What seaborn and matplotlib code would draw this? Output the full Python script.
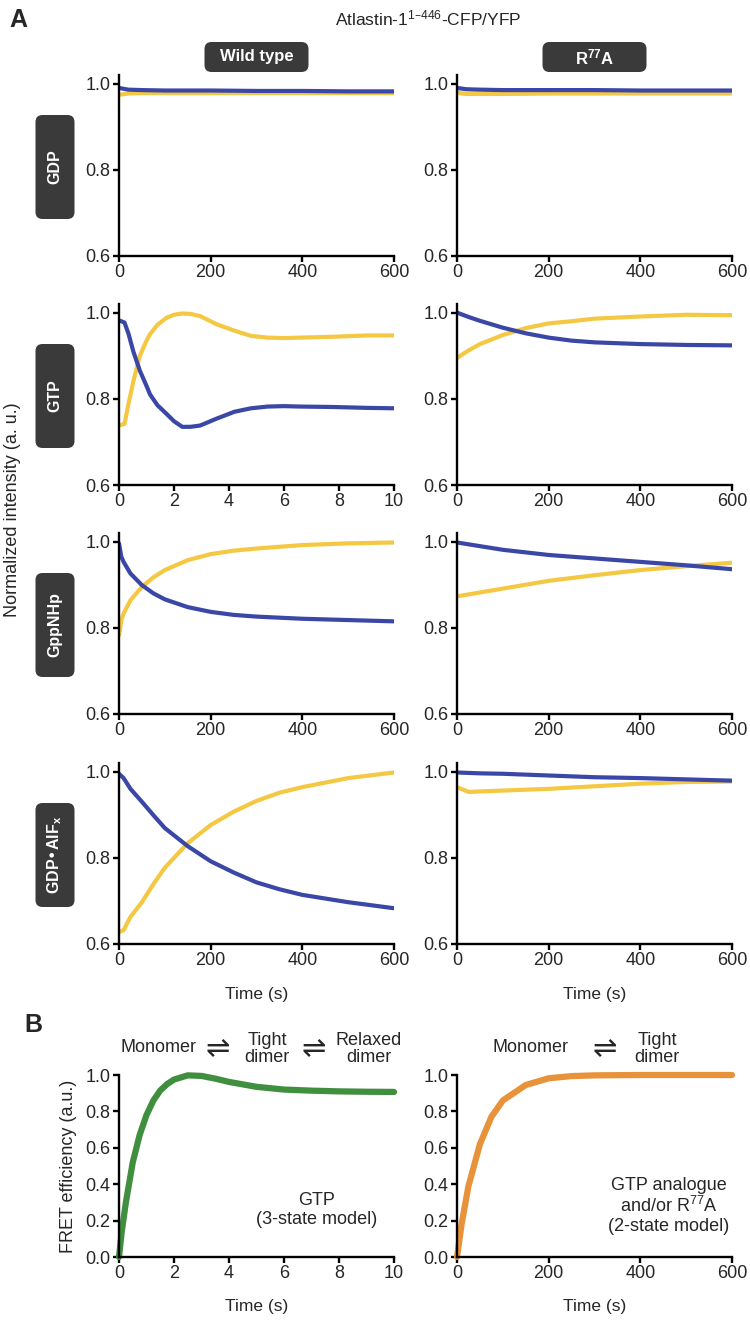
import matplotlib
matplotlib.use("Agg")
import matplotlib.pyplot as plt
import seaborn as sns
import pandas as pd
from matplotlib.patches import FancyBboxPatch

# ---- panel A data (normalized CFP / YFP intensity) ----
t_gdp = [0, 20, 50, 100, 200, 300, 400, 500, 600]
wt_gdp_cfp = [0.99, 0.986, 0.985, 0.984, 0.984, 0.983, 0.983, 0.982, 0.982]
wt_gdp_yfp = [0.974, 0.977, 0.978, 0.978, 0.978, 0.978, 0.978, 0.978, 0.978]
r77a_gdp_cfp = [0.99, 0.987, 0.986, 0.985, 0.985, 0.985, 0.984, 0.984, 0.984]
r77a_gdp_yfp = [0.979, 0.976, 0.976, 0.976, 0.977, 0.977, 0.977, 0.977, 0.977]

t_gtp_wt = [0, 0.2, 0.35, 0.52, 0.76, 1.0, 1.13, 1.4, 1.73, 2.0, 2.3, 2.6, 2.95,
            3.55, 4.2, 4.8, 5.4, 6.0, 6.6, 7.8, 9.0, 10]
wt_gtp_cfp = [0.982, 0.977, 0.95, 0.91, 0.865, 0.83, 0.81, 0.785, 0.765, 0.748, 0.735,
              0.735, 0.738, 0.754, 0.77, 0.778, 0.782, 0.783, 0.782, 0.781, 0.779, 0.778]
wt_gtp_yfp = [0.738, 0.742, 0.79, 0.84, 0.90, 0.935, 0.95, 0.972, 0.988, 0.995, 0.998,
              0.997, 0.992, 0.973, 0.958, 0.946, 0.942, 0.941, 0.942, 0.944, 0.947, 0.947]

t_gtp_r77a = [0, 25, 50, 100, 150, 200, 250, 300, 400, 500, 600]
r77a_gtp_cfp = [1.0, 0.99, 0.981, 0.965, 0.952, 0.942, 0.935, 0.931, 0.927, 0.925, 0.924]
r77a_gtp_yfp = [0.895, 0.912, 0.927, 0.948, 0.964, 0.975, 0.98, 0.986, 0.991, 0.995, 0.994]

t_gnp_wt = [0, 5, 10, 25, 50, 75, 100, 150, 200, 250, 300, 400, 500, 600]
wt_gnp_cfp = [0.996, 0.965, 0.953, 0.926, 0.899, 0.88, 0.866, 0.848, 0.837, 0.83, 0.826,
              0.821, 0.818, 0.815]
wt_gnp_yfp = [0.783, 0.818, 0.833, 0.864, 0.895, 0.917, 0.934, 0.957, 0.971, 0.979, 0.984,
              0.992, 0.996, 0.998]

t_gnp_r77a = [0, 100, 200, 300, 400, 500, 600]
r77a_gnp_cfp = [0.998, 0.981, 0.969, 0.961, 0.953, 0.945, 0.936]
r77a_gnp_yfp = [0.873, 0.891, 0.909, 0.922, 0.934, 0.943, 0.951]

t_alf_wt = [0, 10, 25, 50, 75, 100, 150, 200, 250, 300, 350, 400, 500, 600]
wt_alf_cfp = [0.995, 0.985, 0.96, 0.93, 0.899, 0.869, 0.827, 0.792, 0.766, 0.743, 0.727,
              0.714, 0.697, 0.683]
wt_alf_yfp = [0.628, 0.632, 0.663, 0.697, 0.739, 0.777, 0.834, 0.876, 0.907, 0.932, 0.951,
              0.964, 0.985, 0.998]

t_alf_r77a = [0, 25, 50, 100, 200, 300, 400, 500, 600]
r77a_alf_cfp = [0.998, 0.997, 0.996, 0.995, 0.991, 0.987, 0.985, 0.982, 0.979]
r77a_alf_yfp = [0.964, 0.953, 0.954, 0.956, 0.96, 0.966, 0.972, 0.976, 0.977]

# ---- panel B data (model FRET efficiency) ----
t_model3 = [0, 0.1, 0.25, 0.5, 0.75, 1.0, 1.25, 1.5, 1.75, 2.0, 2.5, 3.0, 3.5, 4.0,
            5.0, 6.0, 7.0, 8.0, 9.0, 10.0]
fret_model3 = [0, 0.14, 0.30, 0.52, 0.67, 0.78, 0.86, 0.915, 0.95, 0.975, 0.998, 0.995,
               0.98, 0.962, 0.935, 0.92, 0.914, 0.91, 0.908, 0.907]
t_model2 = [0, 5, 10, 25, 50, 75, 100, 150, 200, 250, 300, 400, 500, 600]
fret_model2 = [0, 0.09, 0.18, 0.39, 0.62, 0.77, 0.86, 0.945, 0.982, 0.994, 0.998, 1.0, 1.0, 1.0]

row_names = ["GDP", "GTP", "GppNHp", "GDP\u2022AlF$_x$"]
col_names = ["Wild type", "R$^{77}$A"]

BLUE = "#3a47a6"
YELLOW = "#f4c842"
GREEN = "#3f8f3f"
ORANGE = "#e8923a"
BOXC = "#3a3a3a"

sns.set_style("ticks")
plt.rcParams["font.family"] = ["Liberation Sans", "DejaVu Sans"]
plt.rcParams["mathtext.default"] = "regular"

W, H = 750, 1324
fig = plt.figure(figsize=(W / 100, H / 100), dpi=100)


def add_ax(left, bottom, w, h):
    return fig.add_axes([left / W, 1 - bottom / H, w / W, h / H])


def style(ax):
    sns.despine(ax=ax)
    for s in ["left", "bottom"]:
        ax.spines[s].set_linewidth(1.7)
        ax.spines[s].set_color("black")
    ax.tick_params(direction="out", length=4, width=1.7, labelsize=13, pad=2, color="black")


def dark_box(cx, cy, w, h, text, rot=0, size=11.5):
    box = FancyBboxPatch(((cx - w / 2) / 100, (H - cy - h / 2) / 100), w / 100, h / 100,
                         boxstyle="round,pad=0,rounding_size=0.07",
                         transform=fig.dpi_scale_trans, fc=BOXC, ec="none")
    fig.add_artist(box)
    fig.text(cx / W, 1 - cy / H, text, rotation=rot, ha="center", va="center",
             color="white", fontsize=size, fontweight="bold")


panels = [
    [(t_gdp, wt_gdp_cfp, wt_gdp_yfp, 600), (t_gdp, r77a_gdp_cfp, r77a_gdp_yfp, 600)],
    [(t_gtp_wt, wt_gtp_cfp, wt_gtp_yfp, 10), (t_gtp_r77a, r77a_gtp_cfp, r77a_gtp_yfp, 600)],
    [(t_gnp_wt, wt_gnp_cfp, wt_gnp_yfp, 600), (t_gnp_r77a, r77a_gnp_cfp, r77a_gnp_yfp, 600)],
    [(t_alf_wt, wt_alf_cfp, wt_alf_yfp, 600), (t_alf_r77a, r77a_alf_cfp, r77a_alf_yfp, 600)],
]

col_left = [119, 457]
row_bottom = [256, 485, 714, 944]
ax_w, ax_h = 275, 181

for r in range(4):
    for c in range(2):
        t, cfp, yfp, tmax = panels[r][c]
        ax = add_ax(col_left[c], row_bottom[r], ax_w, ax_h)
        df = pd.DataFrame({"t": t, "CFP": cfp, "YFP": yfp})
        sns.lineplot(data=df, x="t", y="YFP", color=YELLOW, lw=3, ax=ax)
        sns.lineplot(data=df, x="t", y="CFP", color=BLUE, lw=3, ax=ax)
        ax.set_xlim(0, tmax)
        ax.set_ylim(0.6, 1.02)
        ax.set_yticks([0.6, 0.8, 1.0])
        if tmax == 10:
            ax.set_xticks([0, 2, 4, 6, 8, 10])
        else:
            ax.set_xticks([0, 200, 400, 600])
        ax.set_ylabel("")
        if r == 3:
            ax.set_xlabel("Time (s)", fontsize=12.5, labelpad=13)
        else:
            ax.set_xlabel("")
        style(ax)
    dark_box(55, row_bottom[r] - 89, 39, 104, row_names[r], rot=90)

for c in range(2):
    dark_box(col_left[c] + ax_w / 2, 57, 104, 30, col_names[c], size=12)

fig.text(428 / W, 1 - 18 / H, "Atlastin-1$^{1\u2013446}$-CFP/YFP", ha="center", va="center",
         fontsize=12.5)
fig.text(9 / W, 1 - 20 / H, "A", ha="left", va="center", fontsize=18, fontweight="bold")
fig.text(13 / W, 1 - 510 / H, "Normalized intensity (a. u.)", rotation=90, ha="center",
         va="center", fontsize=13)

# ---- panel B ----
axb1 = add_ax(119, 1257, ax_w, 182)
sns.lineplot(x=t_model3, y=fret_model3, color=GREEN, lw=4.5, ax=axb1, clip_on=False)
axb1.set_xlim(0, 10)
axb1.set_xticks([0, 2, 4, 6, 8, 10])
axb1.set_ylabel("FRET efficiency (a.u.)", fontsize=13, labelpad=6)

axb2 = add_ax(457, 1257, ax_w, 182)
sns.lineplot(x=t_model2, y=fret_model2, color=ORANGE, lw=4.5, ax=axb2, clip_on=False)
axb2.set_xlim(0, 600)
axb2.set_xticks([0, 200, 400, 600])

for ax in (axb1, axb2):
    ax.set_ylim(0, 1.0)
    ax.set_yticks([0.0, 0.2, 0.4, 0.6, 0.8, 1.0])
    ax.set_xlabel("Time (s)", fontsize=12.5, labelpad=12)
    style(ax)

axb1.text(0.72, 0.26, "GTP\n(3-state model)", transform=axb1.transAxes, ha="center",
          va="center", fontsize=13, linespacing=1.15)
axb2.text(0.77, 0.28, "GTP analogue\nand/or R$^{77}$A\n(2-state model)",
          transform=axb2.transAxes, ha="center", va="center", fontsize=13, linespacing=1.15)

fig.text(24 / W, 1 - 1025 / H, "B", ha="left", va="center", fontsize=18, fontweight="bold")

scheme_kw = dict(va="center", fontsize=13, linespacing=1.0)
arrow_kw = dict(va="center", ha="center", fontsize=21, family=["DejaVu Sans"])
fig.text(197 / W, 1 - 1048 / H, "Monomer", ha="right", **scheme_kw)
fig.text(218 / W, 1 - 1049 / H, "\u21cc", **arrow_kw)
fig.text(267 / W, 1 - 1049 / H, "Tight\ndimer", ha="center", **scheme_kw)
fig.text(314 / W, 1 - 1049 / H, "\u21cc", **arrow_kw)
fig.text(369 / W, 1 - 1049 / H, "Relaxed\ndimer", ha="center", **scheme_kw)
fig.text(568 / W, 1 - 1048 / H, "Monomer", ha="right", **scheme_kw)
fig.text(605 / W, 1 - 1049 / H, "\u21cc", **arrow_kw)
fig.text(657 / W, 1 - 1049 / H, "Tight\ndimer", ha="center", **scheme_kw)

fig.savefig("out.png", dpi=100)
